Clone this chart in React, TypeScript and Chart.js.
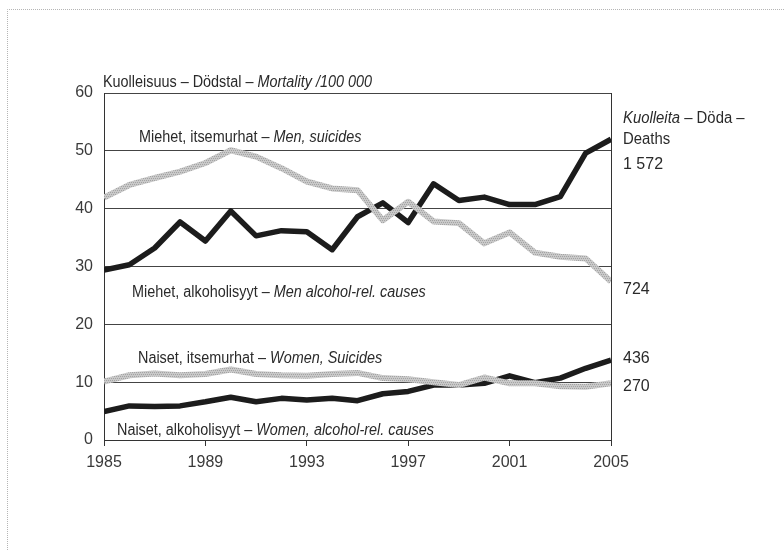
import React, { useEffect, useRef } from "react";
import { Chart, registerables } from "chart.js";

Chart.register(...registerables);

const years = [1985, 1986, 1987, 1988, 1989, 1990, 1991, 1992, 1993, 1994, 1995, 1996, 1997, 1998, 1999, 2000, 2001, 2002, 2003, 2004, 2005];
const menSuicides = [41.9, 44.1, 45.3, 46.4, 47.9, 50.1, 49.0, 47.0, 44.7, 43.5, 43.2, 38.0, 41.2, 37.8, 37.5, 34.0, 35.9, 32.4, 31.7, 31.4, 27.4];
const menAlcohol = [29.4, 30.3, 33.2, 37.7, 34.4, 39.6, 35.3, 36.2, 36.0, 32.9, 38.6, 41.0, 37.6, 44.3, 41.4, 42.0, 40.7, 40.7, 42.1, 49.6, 52.0];
const womenSuicides = [10.1, 11.2, 11.5, 11.2, 11.4, 12.2, 11.4, 11.2, 11.1, 11.4, 11.6, 10.7, 10.5, 10.0, 9.5, 10.8, 9.8, 9.8, 9.3, 9.2, 9.8];
const womenAlcohol = [4.9, 5.9, 5.8, 5.9, 6.6, 7.4, 6.6, 7.2, 6.9, 7.2, 6.8, 8.0, 8.4, 9.5, 9.5, 9.8, 11.1, 9.9, 10.7, 12.4, 13.8];

const yTicks = [0, 10, 20, 30, 40, 50, 60];
const xTicks = [1985, 1989, 1993, 1997, 2001, 2005];

const titleParts = [["Kuolleisuus – Dödstal – ", false], ["Mortality /100 000", true]] as [string, boolean][];
const labelMenSuicides = [["Miehet, itsemurhat – ", false], ["Men, suicides", true]] as [string, boolean][];
const labelMenAlcohol = [["Miehet, alkoholisyyt – ", false], ["Men alcohol-rel. causes", true]] as [string, boolean][];
const labelWomenSuicides = [["Naiset, itsemurhat – ", false], ["Women, Suicides", true]] as [string, boolean][];
const labelWomenAlcohol = [["Naiset, alkoholisyyt – ", false], ["Women, alcohol-rel. causes", true]] as [string, boolean][];
const deathsHeader1 = [["Kuolleita", true], [" – Döda –", false]] as [string, boolean][];
const deathsHeader2 = [["Deaths", false]] as [string, boolean][];
const deathsMenAlcohol = "1 572";
const deathsMenSuicides = "724";
const deathsWomenAlcohol = "436";
const deathsWomenSuicides = "270";

const FONT = "'Liberation Sans', Arial, Helvetica, sans-serif";
const TEXT = "#2a2a2a";

function makeGrayPattern(): CanvasPattern | string {
  const c = document.createElement("canvas");
  c.width = 4;
  c.height = 4;
  const g = c.getContext("2d");
  if (!g) return "#bdbdbd";
  g.fillStyle = "#c9c9c9";
  g.fillRect(0, 0, 4, 4);
  g.fillStyle = "#a3a3a3";
  for (let i = 0; i < 4; i++) g.fillRect(i, (i * 2) % 4, 1, 1);
  const p = g.createPattern(c, "repeat");
  return p || "#bdbdbd";
}

function drawParts(ctx: CanvasRenderingContext2D, parts: [string, boolean][], x: number, y: number, size: number, sx: number) {
  ctx.save();
  ctx.translate(x, y);
  ctx.scale(sx, 1);
  let cx = 0;
  for (const [t, it] of parts) {
    ctx.font = `${it ? "italic " : ""}${size}px ${FONT}`;
    ctx.fillText(t, cx, 0);
    cx += ctx.measureText(t).width;
  }
  ctx.restore();
}

const annotations = {
  id: "annotations",
  afterDatasetsDraw(chart: any) {
    const ctx: CanvasRenderingContext2D = chart.ctx;
    const { left, top, right, bottom } = chart.chartArea;
    ctx.save();
    // right frame
    ctx.strokeStyle = "#333";
    ctx.lineWidth = 1;
    ctx.beginPath();
    ctx.moveTo(Math.round(right) + 0.5, top);
    ctx.lineTo(Math.round(right) + 0.5, bottom + 6);
    ctx.stroke();
    // dotted page frame
    ctx.strokeStyle = "#b5b5b5";
    ctx.setLineDash([1, 1]);
    ctx.beginPath();
    ctx.moveTo(7.5, 550);
    ctx.lineTo(7.5, 9.5);
    ctx.lineTo(784, 9.5);
    ctx.stroke();
    ctx.setLineDash([]);

    ctx.fillStyle = TEXT;
    ctx.textBaseline = "alphabetic";
    ctx.textAlign = "left";
    const s = 0.9;
    drawParts(ctx, titleParts, left - 1, top - 6, 16, s);
    drawParts(ctx, labelMenSuicides, left + 35, top + 49, 16, s);
    drawParts(ctx, labelMenAlcohol, left + 28, top + 204, 16, s);
    drawParts(ctx, labelWomenSuicides, left + 34, top + 270, 16, s);
    drawParts(ctx, labelWomenAlcohol, left + 13, top + 342, 16, s);
    drawParts(ctx, deathsHeader1, right + 12, top + 30, 16, 0.93);
    drawParts(ctx, deathsHeader2, right + 12, top + 51, 16, 0.93);
    ctx.font = `16px ${FONT}`;
    ctx.fillText(deathsMenAlcohol, right + 12, top + 76);
    ctx.fillText(deathsMenSuicides, right + 12, top + 201);
    ctx.fillText(deathsWomenAlcohol, right + 12, top + 270);
    ctx.fillText(deathsWomenSuicides, right + 12, top + 298);
    ctx.restore();
  },
};

export default function App() {
  const ref = useRef<HTMLCanvasElement>(null);
  useEffect(() => {
    if (!ref.current) return;
    const gray = makeGrayPattern();
    const black = "#1c1c1c";
    const mk = (data: number[], color: any, w: number) => ({
      data: years.map((y, i) => ({ x: y, y: data[i] })),
      borderColor: color,
      borderWidth: w,
      pointRadius: 0,
      tension: 0,
      borderJoinStyle: "round" as const,
      borderCapStyle: "butt" as const,
    });
    const chart = new Chart(ref.current, {
      type: "line",
      data: {
        datasets: [
          mk(menSuicides, gray, 6),
          mk(womenSuicides, gray, 6),
          mk(menAlcohol, black, 5.5),
          mk(womenAlcohol, black, 5.5),
        ],
      },
      options: {
        animation: false,
        responsive: false,
        devicePixelRatio: 1,
        layout: { padding: { top: 93, right: 173, bottom: 70, left: 0 } },
        plugins: { legend: { display: false }, tooltip: { enabled: false }, title: { display: false } },
        scales: {
          x: {
            type: "linear",
            min: 1985,
            max: 2005,
            afterBuildTicks: (scale: any) => {
              scale.ticks = xTicks.map((v) => ({ value: v }));
            },
            afterFit: (scale: any) => {
              scale.height = 40;
            },
            ticks: {
              color: "#3a3a3a",
              font: { family: FONT, size: 16 },
              padding: 7,
              maxRotation: 0,
              autoSkip: false,
              callback: (v: any) => String(v),
            },
            grid: { drawOnChartArea: false, drawTicks: true, tickLength: 6, color: "#333", lineWidth: 1 },
            border: { display: true, color: "#333", width: 1 },
          },
          y: {
            type: "linear",
            min: 0,
            max: 60,
            afterBuildTicks: (scale: any) => {
              scale.ticks = yTicks.map((v) => ({ value: v }));
            },
            afterFit: (scale: any) => {
              scale.width = 104;
            },
            ticks: {
              color: "#3a3a3a",
              font: { family: FONT, size: 16 },
              padding: 11,
              autoSkip: false,
            },
            grid: { drawTicks: false, color: "#444", lineWidth: 1 },
            border: { display: true, color: "#333", width: 1 },
          },
        },
      },
      plugins: [annotations],
    } as any);
    return () => chart.destroy();
  }, []);
  return (
    <div style={{ position: "fixed", left: 0, top: 0, width: 784, height: 550, background: "#fff" }}>
      <canvas ref={ref} width={784} height={550} style={{ width: 784, height: 550, display: "block" }} />
    </div>
  );
}
